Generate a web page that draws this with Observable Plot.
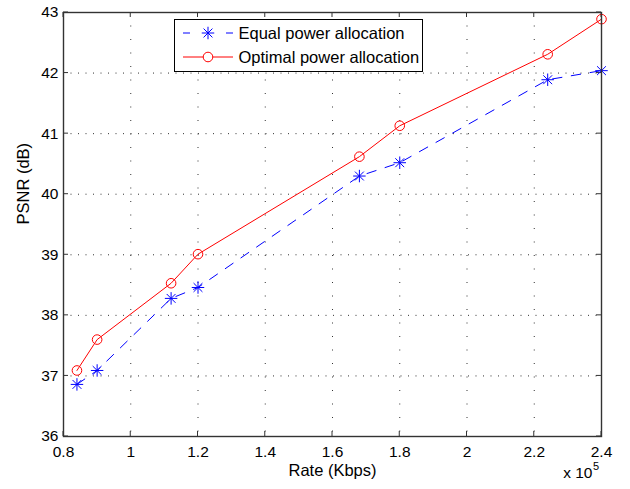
<!DOCTYPE html>
<html><head><meta charset="utf-8">
<script src="https://cdn.jsdelivr.net/npm/d3@7"></script>
<script src="https://cdn.jsdelivr.net/npm/@observablehq/plot@0.6"></script>
<style>
body{margin:0;background:#fff;}
#wrap{position:relative;width:630px;height:489px;font-family:"Liberation Sans",Arial,Helvetica,sans-serif;}
#legend{position:absolute;left:0;top:0;pointer-events:none;}
</style></head><body><div id="wrap"></div>
<script>
const rates = [0.84, 0.9, 1.12, 1.2, 1.68, 1.8, 2.24, 2.4];
const equalPSNR = [36.86, 37.09, 38.28, 38.46, 40.30, 40.52, 41.89, 42.04];
const optimalPSNR = [37.09, 37.60, 38.53, 39.01, 40.62, 41.13, 42.31, 42.89];
const xTicks = [0.8, 1, 1.2, 1.4, 1.6, 1.8, 2, 2.2, 2.4];
const yTicks = [36, 37, 38, 39, 40, 41, 42, 43];
const seriesNames = ["Equal power allocation", "Optimal power allocation"];
const xLabel = "Rate (Kbps)";
const yLabel = "PSNR (dB)";
const xExponent = "5";

const eq = rates.map((r, i) => ({rate: r, psnr: equalPSNR[i]}));
const op = rates.map((r, i) => ({rate: r, psnr: optimalPSNR[i]}));
const font = '"Liberation Sans",Arial,Helvetica,sans-serif';
const BLUE = "#0000ff", RED = "#ff0000";

function inwardTicks(index, scales, values, dims) {
  const {x, y} = scales;
  const {width, height, marginLeft, marginRight, marginTop, marginBottom} = dims;
  const L = 5, x0 = marginLeft, x1 = width - marginRight, y0 = marginTop, y1 = height - marginBottom;
  const g = d3.create("svg:g").attr("stroke", "#333").attr("stroke-width", 1);
  for (const t of xTicks) {
    const px = x(t);
    g.append("line").attr("x1", px).attr("x2", px).attr("y1", y1).attr("y2", y1 - L);
    g.append("line").attr("x1", px).attr("x2", px).attr("y1", y0).attr("y2", y0 + L);
  }
  for (const t of yTicks) {
    const py = y(t);
    g.append("line").attr("y1", py).attr("y2", py).attr("x1", x0).attr("x2", x0 + L);
    g.append("line").attr("y1", py).attr("y2", py).attr("x1", x1).attr("x2", x1 - L);
  }
  return g.node();
}

const chart = Plot.plot({
  width: 630, height: 489,
  marginLeft: 63, marginRight: 29, marginTop: 12, marginBottom: 53,
  style: {fontFamily: font, fontSize: "15.5px", color: "black", background: "white", overflow: "visible"},
  x: {domain: [0.8, 2.4]},
  y: {domain: [36, 43]},
  marks: [
    Plot.gridX(xTicks.slice(1, -1), {stroke: "#333", strokeOpacity: 1, strokeWidth: 1, strokeDasharray: "1,12.5"}),
    Plot.gridY(yTicks.slice(1, -1), {stroke: "#333", strokeOpacity: 1, strokeWidth: 1, strokeDasharray: "1,6.5"}),
    Plot.axisX(xTicks, {anchor: "bottom", tickSize: 0, tickPadding: 9, tickFormat: d => String(d), label: null}),
    Plot.axisY(yTicks, {anchor: "left", tickSize: 0, tickPadding: 5, tickFormat: d => String(d), label: null}),
    inwardTicks,
    Plot.line(eq, {x: "rate", y: "psnr", stroke: BLUE, strokeWidth: 1, strokeDasharray: "9.5,9.5"}),
    Plot.dot(eq, {x: "rate", y: "psnr", symbol: "plus", r: 4.1, stroke: BLUE, strokeWidth: 1}),
    Plot.dot(eq, {x: "rate", y: "psnr", symbol: "times", r: 4.1, stroke: BLUE, strokeWidth: 1}),
    Plot.line(op, {x: "rate", y: "psnr", stroke: RED, strokeWidth: 1}),
    Plot.dot(op, {x: "rate", y: "psnr", r: 4.8, stroke: RED, fill: "none", strokeWidth: 1}),
    Plot.frame({stroke: "#333", strokeWidth: 1.4}),
    Plot.text([xLabel], {frameAnchor: "bottom", dy: 39, text: d => d, fontSize: 16.5}),
    Plot.text([yLabel], {frameAnchor: "left", dx: -40, rotate: -90, text: d => d, fontSize: 16.5}),
    Plot.text(["x 10"], {frameAnchor: "bottom-right", dx: -9, dy: 41.5, textAnchor: "end", text: d => d, fontSize: 15.5}),
    Plot.text([xExponent], {frameAnchor: "bottom-right", dx: -8.5, dy: 33, textAnchor: "start", text: d => d, fontSize: 11})
  ]
});
const wrap = document.getElementById("wrap");
wrap.appendChild(chart);

// Legend overlay
const lg = d3.select(wrap).append("svg").attr("id", "legend").attr("width", 630).attr("height", 489);
lg.append("rect").attr("x", 174.5).attr("y", 19.5).attr("width", 248).attr("height", 52)
  .attr("fill", "white").attr("stroke", "black").attr("stroke-width", 1);
const row1 = 33, row2 = 57;
lg.append("line").attr("x1", 183).attr("x2", 190).attr("y1", row1).attr("y2", row1).attr("stroke", BLUE);
lg.append("line").attr("x1", 226).attr("x2", 233).attr("y1", row1).attr("y2", row1).attr("stroke", BLUE);
lg.append("path").attr("d", d3.symbol(d3.symbolPlus, 4.1 * 4.1 * Math.PI)()).attr("transform", `translate(208,${row1})`).attr("fill", "none").attr("stroke", BLUE);
lg.append("path").attr("d", d3.symbol(d3.symbolTimes, 4.1 * 4.1 * Math.PI)()).attr("transform", `translate(208,${row1})`).attr("fill", "none").attr("stroke", BLUE);
lg.append("line").attr("x1", 183).attr("x2", 233).attr("y1", row2).attr("y2", row2).attr("stroke", RED);
lg.append("circle").attr("cx", 208).attr("cy", row2).attr("r", 4.8).attr("fill", "white").attr("stroke", RED);
lg.selectAll("text.lab").data(seriesNames).join("text").attr("class", "lab")
  .attr("x", 238.5).attr("y", (d, i) => i ? row2 : row1).attr("dy", "0.35em")
  .attr("font-family", font).attr("font-size", 16.5).attr("fill", "black").text(d => d);
</script></body></html>
